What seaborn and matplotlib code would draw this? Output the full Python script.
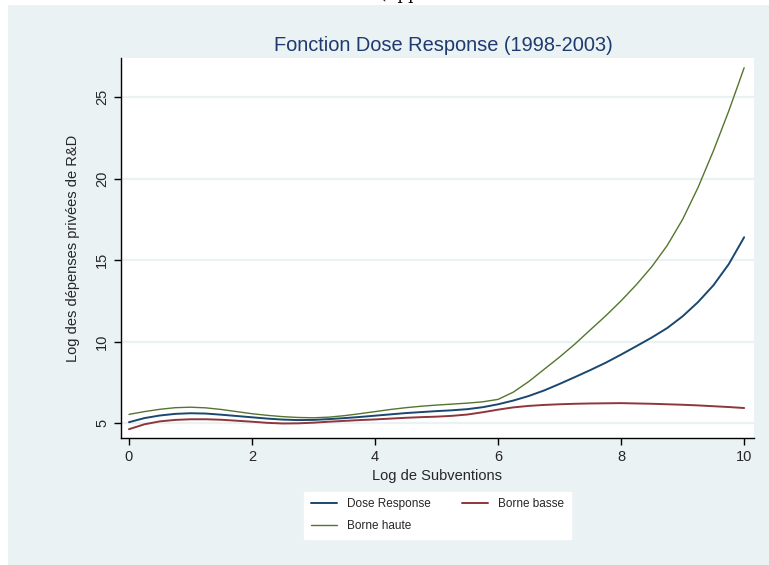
import matplotlib
matplotlib.use('Agg')
import matplotlib.pyplot as plt
import matplotlib.patches as mpatches
import pandas as pd
import seaborn as sns

# ── Data ─────────────────────────────────────────────────────────────────────
log_subv = [0.0, 0.25, 0.5, 0.75, 1.0, 1.25, 1.5, 1.75, 2.0, 2.25, 2.5, 2.75,
            3.0, 3.25, 3.5, 3.75, 4.0, 4.25, 4.5, 4.75, 5.0, 5.25, 5.5, 5.75,
            6.0, 6.25, 6.5, 6.75, 7.0, 7.25, 7.5, 7.75, 8.0, 8.25, 8.5, 8.75,
            9.0, 9.25, 9.5, 9.75, 10.0]
dose_response = [5.05, 5.30, 5.46, 5.56, 5.60, 5.58, 5.51, 5.43, 5.35, 5.27, 5.21, 5.18,
                 5.19, 5.24, 5.30, 5.37, 5.45, 5.53, 5.61, 5.67, 5.73, 5.78, 5.85, 5.97,
                 6.15, 6.38, 6.66, 7.00, 7.40, 7.82, 8.25, 8.70, 9.20, 9.72, 10.25, 10.83,
                 11.55, 12.42, 13.45, 14.75, 16.40]
borne_basse = [4.62, 4.92, 5.10, 5.19, 5.23, 5.23, 5.20, 5.14, 5.08, 5.01, 4.97, 4.98,
               5.02, 5.08, 5.13, 5.18, 5.22, 5.27, 5.32, 5.36, 5.39, 5.44, 5.52, 5.66,
               5.82, 5.96, 6.05, 6.11, 6.15, 6.18, 6.20, 6.21, 6.22, 6.20, 6.18, 6.15,
               6.12, 6.08, 6.03, 5.98, 5.92]
borne_haute = [5.53, 5.70, 5.84, 5.94, 5.97, 5.93, 5.83, 5.70, 5.57, 5.47, 5.39, 5.34,
               5.32, 5.36, 5.45, 5.57, 5.70, 5.83, 5.94, 6.03, 6.10, 6.16, 6.22, 6.30,
               6.45, 6.90, 7.55, 8.30, 9.05, 9.85, 10.72, 11.58, 12.50, 13.50, 14.60, 15.90,
               17.50, 19.45, 21.70, 24.15, 26.80]
x_ticks = [0, 2, 4, 6, 8, 10]
y_ticks = [5, 10, 15, 20, 25]

BG = '#EAF2F3'
COLORS = {
    'Dose Response': '#1A476F',
    'Borne basse':   '#90353B',
    'Borne haute':   '#55752F',
}
WIDTHS = {'Dose Response': 1.4, 'Borne basse': 1.4, 'Borne haute': 1.0}

sns.set_style('white')
plt.rcParams['font.family'] = ['Liberation Sans', 'DejaVu Sans']

fig = plt.figure(figsize=(7.69, 5.65), dpi=100)
fig.patch.set_facecolor('white')
# Stata-style light backdrop (the picture has a thin white margin)
fig.add_artist(mpatches.Rectangle((8 / 769, 0), 1, 1 - 5 / 565,
                                  transform=fig.transFigure,
                                  facecolor=BG, edgecolor='none', zorder=0))
fig.text(380 / 769, 1 + 1 / 565, '(Appendix', family='serif', fontsize=12,
         va='baseline', ha='left', color='black')

ax = fig.add_axes([121 / 769, 1 - 438 / 565, 633 / 769, 380 / 565])
ax.set_facecolor('white')

n = len(log_subv)
df = pd.DataFrame({
    'x': log_subv * 3,
    'y': dose_response + borne_basse + borne_haute,
    'serie': ['Dose Response'] * n + ['Borne basse'] * n + ['Borne haute'] * n,
})
for name in ['Dose Response', 'Borne basse', 'Borne haute']:
    sub = df[df['serie'] == name]
    sns.lineplot(data=sub, x='x', y='y', ax=ax, color=COLORS[name],
                 linewidth=WIDTHS[name], label=name, legend=False,
                 estimator=None, sort=False)

ax.set_xlim(-0.13, 10.16)
ax.set_ylim(4.08, 27.4)
ax.set_xticks(x_ticks)
ax.set_yticks(y_ticks)
ax.yaxis.grid(True, color=BG, linewidth=1.6)
ax.set_axisbelow(True)
for s in ['top', 'right']:
    ax.spines[s].set_visible(False)
for s in ['left', 'bottom']:
    ax.spines[s].set_color('black')
    ax.spines[s].set_linewidth(1.0)
ax.tick_params(axis='both', direction='out', length=5, width=1, color='black',
               labelsize=10.5, left=True, bottom=True)
plt.setp(ax.get_yticklabels(), rotation=90, va='center')

ax.set_xlabel('Log de Subventions', fontsize=10.5, labelpad=4)
ax.set_ylabel('Log des dépenses privées de R&D', fontsize=10.5, labelpad=11)
ax.set_title('Fonction Dose Response (1998-2003)', fontsize=14.4,
             color='#1E3A6E', pad=5, x=0.5087)

handles = {l.get_label(): l for l in ax.get_lines()}
order = ['Dose Response', 'Borne haute', 'Borne basse']
leg = fig.legend([handles[k] for k in order], order, ncol=2,
                 loc='upper center', bbox_to_anchor=(437.5 / 769, 1 - 486 / 565),
                 fontsize=8.5, frameon=True, fancybox=False, facecolor='white',
                 edgecolor='white', framealpha=1, handlelength=2.2,
                 columnspacing=2.6, handletextpad=0.9, borderpad=0.55,
                 labelspacing=0.85)

fig.savefig('out.png', dpi=100, facecolor=fig.get_facecolor())
